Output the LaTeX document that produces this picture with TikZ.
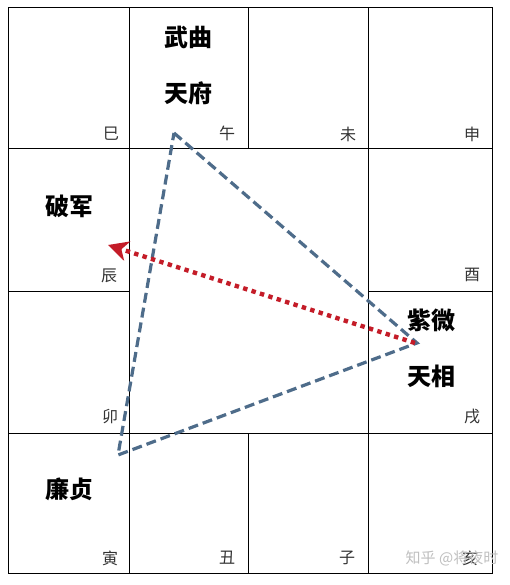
\documentclass[tikz,border=0pt]{standalone}
\usepackage{fontspec}
\usepackage{xcolor}
\setmainfont{Noto Sans CJK SC}
\usetikzlibrary{arrows.meta}
\definecolor{triblue}{RGB}{78,108,138}
\definecolor{arrred}{RGB}{196,28,40}
\begin{document}
\begin{tikzpicture}[x=1pt,y=-1pt,
    star/.style = {font=\fontsize{24}{24}\selectfont\bfseries,inner sep=0pt},
    branch/.style = {font=\fontsize{16}{16}\selectfont,text=black!80,inner sep=0pt},
    tri/.style = {draw=triblue,line width=3.2pt,dash pattern=on 10pt off 5pt},
    arr/.style = {draw=arrred,line width=4.4pt,dash pattern=on 4.4pt off 4.4pt}]
      \useasboundingbox[fill=white] (0,0) rectangle (510,585);
      % the twelve palaces
      \foreach \xa/\xb/\ya/\yb in {8/129/8/149,129/248/8/149,248/368/8/149,368/492/8/149,
          8/129/149/291,368/492/149/291,8/129/291/433,368/492/291/433,
          8/129/433/573,129/248/433/573,248/368/433/573,368/492/433/573}
        \draw[line width=1pt] (\xa,\ya) rectangle (\xb,\yb);
      \node[branch] (si) at (111,134) {巳};
      \node[branch] (wu) at (227,133) {午};
      \node[branch] (wei) at (348,134) {未};
      \node[branch] (shen) at (472,134) {申};
      \node[branch] (chen) at (109,276) {辰};
      \node[branch] (you) at (472,275) {酉};
      \node[branch] (mao) at (110,417) {卯};
      \node[branch] (xu) at (472,417) {戌};
      \node[branch] (yin) at (110,558) {寅};
      \node[branch] (chou) at (227,558) {丑};
      \node[branch] (zi) at (347,558) {子};
      \node[branch] (hai) at (470,558) {亥};
      % stars
      \node[star] (wuqu) at (188,37) {武曲};
      \node[star] (tianfu) at (188,93) {天府};
      \node[star] (pojun) at (69,206) {破军};
      \node[star] (ziwei) at (431,320) {紫微};
      \node[star] (tianxiang) at (431,376) {天相};
      \node[star] (lianzhen) at (69,489) {廉贞};
      % triangle and arrow
      \coordinate (t1) at (174,133);
      \coordinate (t2) at (417,343);
      \coordinate (t3) at (118,455);
      \coordinate (a1) at (415,343);
      \coordinate (a2) at (108,245);
      \draw[tri] (t1) -- (t2) -- (t3) -- cycle;
      \draw[arr,-{Stealth[length=20pt,width=20pt,inset=6pt]}] (a1) -- (a2);
      \node[text=black!25,font=\fontsize{15}{15}\selectfont,inner sep=0pt] (mark) at (452,558) {知乎 @将夜时};
    \end{tikzpicture}
\end{document}
